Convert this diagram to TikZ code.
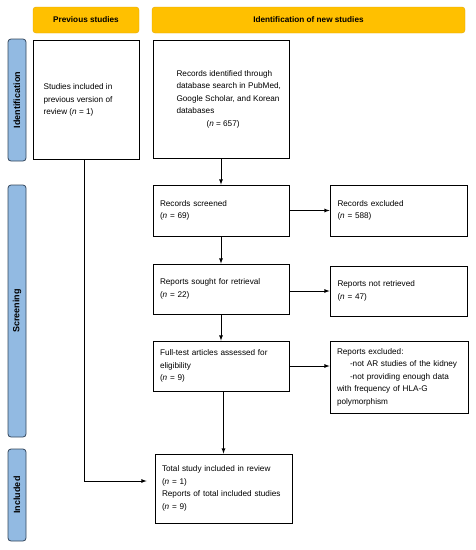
\documentclass[tikz,border=0pt]{standalone}
\usepackage{fontspec}
\setmainfont{Liberation Sans}
\usepackage{xcolor}
\usepackage{tikz}
\usetikzlibrary{shapes, arrows, positioning, calc}

\definecolor{hdrfill}{HTML}{FFC000}
\definecolor{hdrline}{HTML}{E3A600}
\definecolor{sidefill}{HTML}{92BAE2}
\definecolor{sideline}{HTML}{34465C}

\tikzset{
  box/.style={draw, thick, fill=white, align=left, inner sep=0pt,
    font=\fontsize{8.2}{12.5}\selectfont},
  header/.style={draw=hdrline, fill=hdrfill, rounded corners=3pt,
    font=\fontsize{8.2}{10}\selectfont\bfseries, inner sep=0pt},
  phase/.style={draw=sideline, thick, fill=sidefill, rounded corners=3pt,
    font=\fontsize{9}{10}\selectfont\bfseries, inner sep=0pt, rotate=90},
  flow/.style={thick, -latex}
}

\begin{document}
\begin{tikzpicture}[x=1pt, y=-1pt]
\useasboundingbox (0,0) rectangle (476,550);

% headers
\node[header, minimum width=106pt, minimum height=26pt] (prevhdr) at (86,20) {Previous studies};
\node[header, minimum width=313pt, minimum height=26pt] (newhdr) at (308.5,20) {Identification of new studies};

% phase labels
\node[phase, minimum width=122pt, minimum height=18pt] (ident) at (17,100) {Identification};
\node[phase, minimum width=252pt, minimum height=18pt] (screen) at (17,311) {Screening};
\node[phase, minimum width=92pt, minimum height=18pt] (incl) at (17,495) {Included};

% boxes
\node[box, minimum width=106pt, minimum height=119pt] (prevbox) at (86,99.5) {};
\node[anchor=west, align=left, font=\fontsize{8.2}{12.5}\selectfont] (prevtxt) at (40,100)
  {Studies included in\\previous version of\\review (\textit{n} = 1)};

\node[box, minimum width=136pt, minimum height=118pt] (records) at (221,99) {};
\node[anchor=west, align=left, font=\fontsize{8.2}{12.5}\selectfont] (rectxt) at (173,99)
  {Records identified through\\database search in PubMed,\\Google Scholar, and Korean\\databases\\\hspace*{30pt}(\textit{n} = 657)};

\node[box, minimum width=136pt, minimum height=51pt, text width=122pt] (screened) at (221,210.5)
  {Records screened\\(\textit{n} = 69)};
\node[box, minimum width=137pt, minimum height=51pt, text width=122pt] (excluded) at (398.5,210.5)
  {Records excluded\\(\textit{n} = 588)};

\node[box, minimum width=136pt, minimum height=50pt, text width=122pt] (sought) at (221,289)
  {Reports sought for retrieval\\(\textit{n} = 22)};
\node[box, minimum width=137pt, minimum height=50pt, text width=122pt] (notret) at (398.5,291)
  {Reports not retrieved\\(\textit{n} = 47)};

\node[box, minimum width=136pt, minimum height=50pt, text width=122pt] (fulltext) at (221,366)
  {Full-test articles assessed for\\eligibility\\(\textit{n} = 9)};
\node[box, minimum width=138pt, minimum height=72pt, text width=124pt] (repexcl) at (399,377)
  {Reports excluded:\\\hspace*{13pt}-not AR studies of the kidney\\\hspace*{13pt}-not providing enough data\\with frequency of HLA-G\\polymorphism};

\node[box, minimum width=137pt, minimum height=69pt, text width=123pt] (total) at (223.5,488.5)
  {Total study included in review\\(\textit{n} = 1)\\Reports of total included studies\\(\textit{n} = 9)};

% connectors
\draw[flow] (records) -- (screened);
\draw[flow] (screened) -- (excluded);
\draw[flow] (screened) -- (sought);
\draw[flow] (sought.east |- notret) -- (notret);
\draw[flow] (sought) -- (fulltext);
\draw[flow] (fulltext) -- (repexcl.west |- fulltext);
\draw[flow] (fulltext.south -| total) -- (total);
\draw[flow, shorten >=8pt] ([xshift=-2pt]prevbox.south) |- (total.west |- 0,481);
\end{tikzpicture}
\end{document}
